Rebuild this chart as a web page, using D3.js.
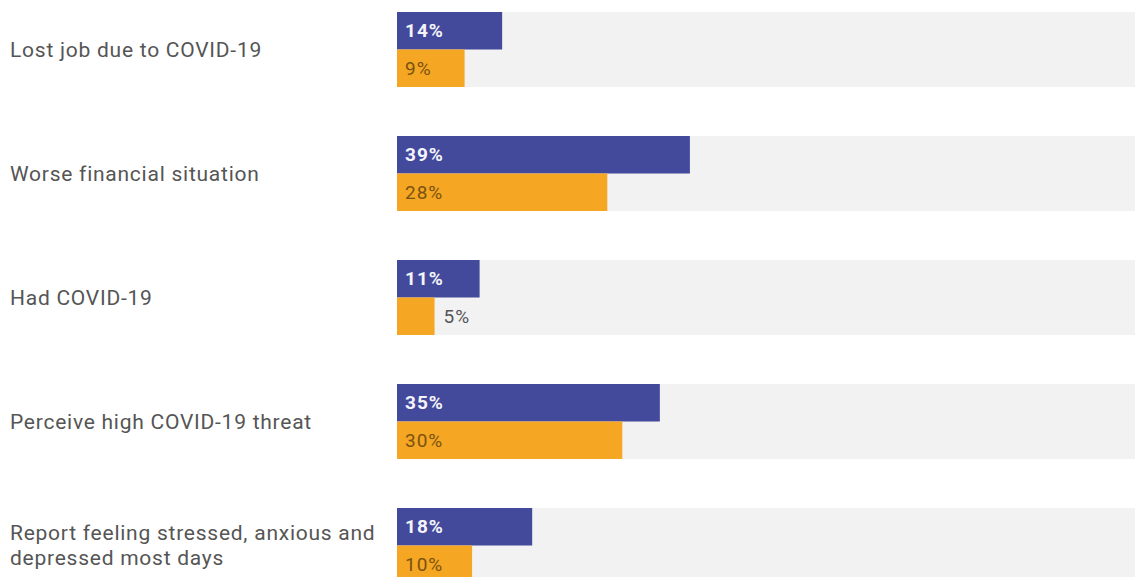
<!doctype html>
<html>
  <head>
    <meta charset='utf-8'>
    <script src="https://d3js.org/d3.v7.min.js"></script>
    <style>
      body { margin: 0; background: #fff; }
      svg { display: block; font-family: Roboto, sans-serif; }
    </style>
  </head>
  <body>
  <svg width="1135" height="577"></svg>
  <script>
    const categories = [
      "Lost job due to COVID-19",
      "Worse financial situation",
      "Had COVID-19",
      "Perceive high COVID-19 threat",
      "Report feeling stressed, anxious and|depressed most days"
    ];
    const series = ["first", "second"];
    const firstValues = [14, 39, 11, 35, 18];
    const secondValues = [9, 28, 5, 30, 10];

    const rows = categories.map((c, i) => ({
      cat: c,
      vals: [
        {key: "first", v: firstValues[i]},
        {key: "second", v: secondValues[i]}
      ]
    }));

    const svg = d3.select("svg");

    const x = d3.scaleLinear().domain([0, 100]).range([397, 1148]);
    const y = d3.scaleBand()
      .domain(categories)
      .range([12, 12 + 124 * 5 - 49])
      .paddingInner(49 / 124);
    const ySub = d3.scaleBand().domain(series).range([0, y.bandwidth()]);
    const colour = d3.scaleOrdinal().domain(series).range(["#434a9c", "#f5a623"]);

    // grey track behind each group
    svg.selectAll(".track")
      .data(rows)
      .enter()
        .append("rect")
          .attr("class", "track")
          .attr("x", x(0))
          .attr("y", (d) => y(d.cat))
          .attr("width", x(100) - x(0))
          .attr("height", y.bandwidth())
          .attr("fill", "#f2f2f2");

    // category labels
    svg.selectAll(".cat")
      .data(rows)
      .enter()
        .append("text")
          .attr("class", "cat")
          .attr("x", 10)
          .attr("y", (d) => y(d.cat) + y.bandwidth() / 2)
          .attr("fill", "#555")
          .style("font-size", "21px")
          .style("letter-spacing", "0.75px")
          .each(function(d) {
            const lines = d.cat.split("|");
            const t = d3.select(this);
            lines.forEach((l, i) => {
              t.append("tspan")
                .attr("x", 10)
                .attr("dy", i === 0 ? `${0.35 - (lines.length - 1) * 0.6}em` : "1.2em")
                .text(l);
            });
          });

    const groups = svg.selectAll(".group")
      .data(rows)
      .enter()
        .append("g")
          .attr("class", "group")
          .attr("transform", (d) => `translate(0,${y(d.cat)})`);

    groups.selectAll(".bar")
      .data((d) => d.vals)
      .enter()
        .append("rect")
          .attr("class", "bar")
          .attr("x", x(0))
          .attr("y", (d) => ySub(d.key))
          .attr("width", (d) => x(d.v) - x(0))
          .attr("height", ySub.bandwidth())
          .attr("fill", (d) => colour(d.key));

    groups.selectAll(".val")
      .data((d) => d.vals)
      .enter()
        .append("text")
          .attr("class", "val")
          .attr("x", (d) => d.v < 7 ? x(d.v) + 9 : x(0) + 8)
          .attr("y", (d) => ySub(d.key) + ySub.bandwidth() / 2)
          .attr("dy", "0.35em")
          .style("font-size", "19px")
          .style("letter-spacing", "1px")
          .style("font-weight", (d) => d.key === "first" ? 700 : 400)
          .attr("fill", (d) => d.key === "first" ? "#f4f4fa" : (d.v < 7 ? "#555" : "#7a5210"))
          .text((d) => `${d.v}%`);
  </script>
  </body>
</html>
